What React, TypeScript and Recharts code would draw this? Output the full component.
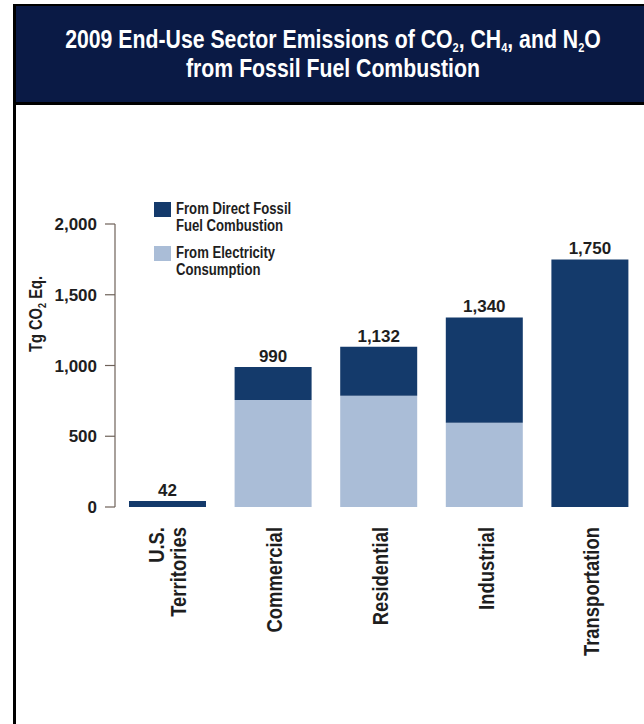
import React from 'react';
import { BarChart, Bar, XAxis, YAxis, LabelList, Label } from 'recharts';

const sectors = ['U.S. Territories', 'Commercial', 'Residential', 'Industrial', 'Transportation'];
const directFossil = [42, 233, 345, 744, 1750];
const electricity = [0, 757, 787, 596, 0];
const totals = [42, 990, 1132, 1340, 1750];
const yTicks = [0, 500, 1000, 1500, 2000];

const DARK = '#143a6b';
const LIGHT = '#aabdd7';
const NAVY = '#0a1a45';
const AXIS = '#6e6259';
const FONT = "'Liberation Sans', Arial, sans-serif";
const SQUEEZE = 0.82; // the original uses a condensed face

const data = sectors.map((name, i) => ({
  name,
  direct: directFossil[i],
  electricity: electricity[i],
  total: totals[i],
}));

// rotated category labels, two lines for "U.S. Territories"
function SectorTick(props: any) {
  const { x, y, payload } = props;
  const lines = payload.value === 'U.S. Territories' ? ['U.S.', 'Territories'] : [payload.value];
  const offsets = lines.length === 2 ? [-4, 18] : [9];
  return (
    <g transform={`translate(${x},${y}) rotate(-90) scale(${SQUEEZE},1)`}>
      {lines.map((line, i) => (
        <text key={line} x={-20 / SQUEEZE} y={offsets[i]} textAnchor="end" fontFamily={FONT} fontWeight="bold" fontSize={22.5} fill="#1e1e1e">
          {line}
        </text>
      ))}
    </g>
  );
}

function ValueTick(props: any) {
  const { x, y, payload } = props;
  return (
    <text x={x} y={y} dy={6} textAnchor="end" fontFamily={FONT} fontWeight="bold" fontSize={17} fill="#1e1e1e">
      {payload.value.toLocaleString('en-US')}
    </text>
  );
}

function TotalLabel(props: any) {
  const { x, y, width, value } = props;
  return (
    <text x={x + width / 2} y={y - 5} textAnchor="middle" fontFamily={FONT} fontWeight="bold" fontSize={17} fill="#1e1e1e">
      {Number(value).toLocaleString('en-US')}
    </text>
  );
}

function UnitLabel() {
  return (
    <text transform={`translate(42,314) rotate(-90) scale(${SQUEEZE},1)`} textAnchor="middle" fontFamily={FONT} fontWeight="bold" fontSize={18} fill="#1e1e1e">
      Tg CO<tspan dy={4} fontSize={11}>2</tspan>
      <tspan dy={-4}> Eq.</tspan>
    </text>
  );
}

const legendItems = [
  { color: DARK, lines: ['From Direct Fossil', 'Fuel Combustion'] },
  { color: LIGHT, lines: ['From Electricity', 'Consumption'] },
];

const sub: React.CSSProperties = { fontSize: 13, verticalAlign: -4, lineHeight: 0 };

export default function App() {
  return (
    <div style={{ position: 'absolute', left: 0, top: 0, width: 644, height: 724, overflow: 'hidden', background: '#fff', fontFamily: FONT }}>
      <div
        style={{
          position: 'absolute', left: 13, top: 4, width: 700, height: 740,
          borderLeft: '3px solid #000', borderTop: '2px solid #000', boxSizing: 'border-box',
        }}
      />
      <div
        style={{
          position: 'absolute', left: 16, top: 6, width: 700, height: 96,
          background: NAVY, borderBottom: '3px solid #000',
        }}
      />
      <div
        style={{
          position: 'absolute', left: -67, top: 25, width: 800, textAlign: 'center',
          color: '#fff', fontWeight: 'bold', fontSize: 25, lineHeight: '29px',
          transform: 'scaleX(0.85)', transformOrigin: '50% 0',
        }}
      >
        <div>
          2009 End-Use Sector Emissions of CO<sub style={sub}>2</sub>, CH<sub style={sub}>4</sub>, and N<sub style={sub}>2</sub>O
        </div>
        <div>from Fossil Fuel Combustion</div>
      </div>

      <div style={{ position: 'absolute', left: 0, top: 0 }}>
        <BarChart width={644} height={724} data={data} margin={{ top: 224, right: 1, bottom: 67, left: 0 }} barSize={77}>
          <XAxis dataKey="name" axisLine={false} tickLine={false} tickSize={0} tickMargin={0} height={150} interval={0} tick={<SectorTick />} />
          <YAxis
            width={115}
            domain={[0, 2000]}
            ticks={yTicks}
            interval={0}
            axisLine={{ stroke: AXIS, strokeWidth: 1.2 }}
            tickLine={{ stroke: AXIS, strokeWidth: 1.2 }}
            tickSize={10}
            tickMargin={8}
            tick={<ValueTick />}
          >
            <Label content={<UnitLabel />} />
          </YAxis>
          <Bar dataKey="electricity" stackId="s" fill={LIGHT} isAnimationActive={false} />
          <Bar dataKey="direct" stackId="s" fill={DARK} isAnimationActive={false}>
            <LabelList dataKey="total" content={<TotalLabel />} />
          </Bar>
        </BarChart>
      </div>

      <div style={{ position: 'absolute', left: 154, top: 200, fontWeight: 'bold', fontSize: 16, lineHeight: '17px', color: '#1e1e1e' }}>
        {legendItems.map((item) => (
          <div key={item.lines[0]} style={{ display: 'flex', alignItems: 'flex-start', marginBottom: 10 }}>
            <div style={{ width: 17, height: 15, background: item.color, marginTop: 2, marginRight: 5, flexShrink: 0 }} />
            <div>
              {item.lines.map((l) => (
                <div key={l} style={{ transform: `scaleX(${SQUEEZE})`, transformOrigin: '0 0', whiteSpace: 'nowrap' }}>
                  {l}
                </div>
              ))}
            </div>
          </div>
        ))}
      </div>
    </div>
  );
}
